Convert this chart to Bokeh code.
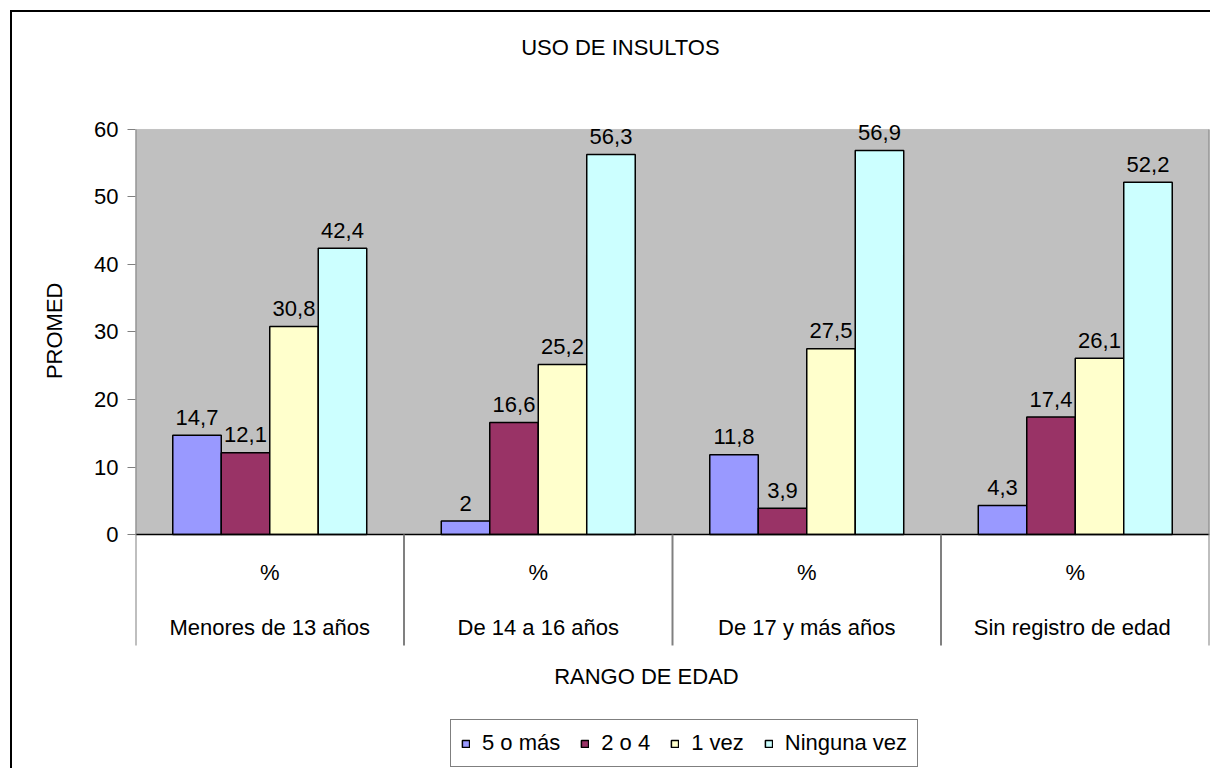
import math
from bokeh.plotting import figure
from bokeh.models import (FactorRange, ColumnDataSource, BoxAnnotation, Label, Title,
                          Legend, LegendItem, FixedTicker)
from bokeh.transform import dodge
from bokeh.core.properties import value
from bokeh.embed import file_html
from bokeh.resources import INLINE

# ---------------- data ----------------
categories = ["Menores de 13 años", "De 14 a 16 años", "De 17 y más años", "Sin registro de  edad"]
subcat_labels = ["%", "%", "%", "%"]
series_names = ["5 o más", "2 o 4", "1 vez", "Ninguna vez"]
s_5_o_mas = [14.7, 2, 11.8, 4.3]
s_2_o_4 = [12.1, 16.6, 3.9, 17.4]
s_1_vez = [30.8, 25.2, 27.5, 26.1]
s_ninguna = [42.4, 56.3, 56.9, 52.2]
y_ticks = [0, 10, 20, 30, 40, 50, 60]
title_text = "USO DE INSULTOS"
x_title = "RANGO DE EDAD"
y_title = "PROMED"

# ---------------- style ----------------
FONT = "Liberation Sans"
colors = ["#9999FF", "#993366", "#FFFFCC", "#CCFFFF"]
offsets = [-0.2709, -0.0903, 0.0903, 0.2709]
BAR_W = 0.1806
YTOP = 60
YDIV = -16.44      # bottom of the category-label band
YMIN = -34.96      # bottom of the canvas
YMAX = 77.33       # top of the canvas

p = figure(x_range=FactorRange(factors=categories, range_padding=0),
           y_range=(YMIN, YMAX),
           width=1200, height=758,
           min_border_left=123, min_border_right=3, min_border_top=0, min_border_bottom=0,
           output_backend="svg", toolbar_location=None)
p.styles = {"border-left": "2px solid #000000", "border-top": "2px solid #000000",
            "margin-left": "10px", "margin-top": "10px"}
p.outline_line_color = None
p.background_fill_color = "#FFFFFF"
p.grid.visible = False
p.xaxis.visible = False

# y axis
p.yaxis.ticker = FixedTicker(ticks=y_ticks)
p.yaxis.bounds = (0, YTOP)
p.yaxis.axis_line_color = None
p.yaxis.major_tick_line_color = "#808080"
p.yaxis.major_tick_out = 8
p.yaxis.major_tick_in = 0
p.yaxis.minor_tick_line_color = None
p.yaxis.major_label_standoff = 9
p.yaxis.major_label_text_font = FONT
p.yaxis.major_label_text_font_size = "22px"
p.yaxis.major_label_text_color = "#000000"

# y-axis title, centred on the 0..60 band
p.add_layout(Title(text=y_title, align="right", offset=270, standoff=50,
                   text_font=FONT, text_font_size="22px", text_font_style="normal",
                   text_color="#000000"), "left")

# grey plot area (0..60)
p.add_layout(BoxAnnotation(bottom=0, top=YTOP, fill_color="#C0C0C0", fill_alpha=1,
                           line_color="#808080", line_width=1, level="underlay"))

src = ColumnDataSource(dict(cat=categories, a=s_5_o_mas, b=s_2_o_4, c=s_1_vez, d=s_ninguna))
cols = ["a", "b", "c", "d"]
series_vals = [s_5_o_mas, s_2_o_4, s_1_vez, s_ninguna]
renderers = []
for col, off, colr, vals in zip(cols, offsets, colors, series_vals):
    r = p.vbar(x=dodge("cat", off, range=p.x_range), top=col, width=BAR_W, bottom=0,
               source=src, fill_color=colr, line_color="#000000", line_width=1.5)
    renderers.append(r)
    lab_src = ColumnDataSource(dict(cat=categories, v=vals,
                                    t=[("%g" % v).replace(".", ",") for v in vals]))
    p.text(x=dodge("cat", off, range=p.x_range), y="v", text="t", source=lab_src,
           text_font=value(FONT), text_font_size="22px", text_color="#000000",
           text_align="center", text_baseline="alphabetic", y_offset=-18)

# zero line (category axis)
n = len(categories)
p.segment(x0=[0], y0=[0], x1=[n], y1=[0], line_color="#000000", line_width=1.5)

# left/right edges and category dividers below the plot area
edges = [0, n]
inner = list(range(1, n))
p.segment(x0=edges, y0=[YTOP] * 2, x1=edges, y1=[YDIV] * 2,
          line_color="#808080", line_width=2)
p.segment(x0=inner, y0=[0] * len(inner), x1=inner, y1=[YDIV] * len(inner),
          line_color="#808080", line_width=2)

# category labels
p.text(x=categories, y=[-5.63] * n, text=subcat_labels,
       text_font=value(FONT), text_font_size="22px", text_color="#000000",
       text_align="center", text_baseline="middle")
p.text(x=categories, y=[-13.8] * n, text=categories,
       text_font=value(FONT), text_font_size="22px", text_color="#000000",
       text_align="center", text_baseline="middle")

# chart title and x-axis title
p.add_layout(Label(x=1.806, y=72.15, text=title_text, text_font=FONT, text_font_size="22px",
                   text_align="center", text_baseline="middle", text_color="#000000"))
p.add_layout(Label(x=1.903, y=-21.04, text=x_title, text_font=FONT, text_font_size="22px",
                   text_align="center", text_baseline="middle", text_color="#000000"))

legend = Legend(items=[LegendItem(label=nm, renderers=[r]) for nm, r in zip(series_names, renderers)],
                orientation="horizontal", location=(315, 3),
                label_text_font=FONT, label_text_font_size="22px", label_text_color="#000000",
                glyph_width=9, glyph_height=9, label_standoff=12, spacing=20,
                padding=10, margin=0, border_line_color="#000000", border_line_width=1,
                background_fill_color="#FFFFFF", background_fill_alpha=1)
p.add_layout(legend)

open("out.html", "w").write(file_html(p, INLINE))
